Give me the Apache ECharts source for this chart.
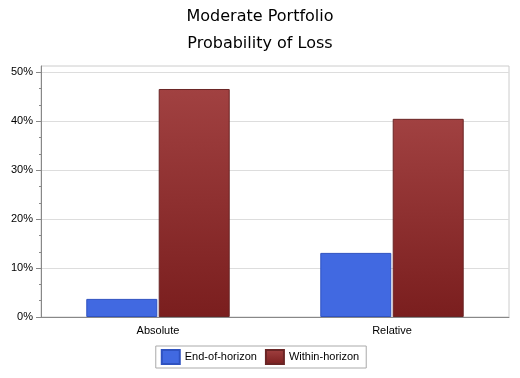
<!DOCTYPE html>
<html>
<head>
<meta charset="utf-8">
<script src="https://cdn.jsdelivr.net/npm/echarts@6/dist/echarts.min.js"></script>
<style>html,body{margin:0;padding:0;background:#fff}#c{width:520px;height:378px}</style>
</head>
<body>
<div id="c"></div>
<script>
var titleLines = ['Moderate Portfolio', 'Probability of Loss'];
var categories = ['Absolute', 'Relative'];
var seriesNames = ['End-of-horizon', 'Within-horizon'];
var endOfHorizon = [3.7, 13.1];
var withinHorizon = [46.6, 40.5];
var yTicks = [0, 10, 20, 30, 40, 50];
var yMax = 51.3;

var chart = echarts.init(document.getElementById('c'), null, {renderer: 'canvas'});
var minorSlots = [];
for (var i = 0; i < categories.length * 5; i++) minorSlots.push('');

chart.setOption({
  animation: false,
  backgroundColor: '#ffffff',
  title: {
    text: titleLines.join('\n'),
    left: 'center',
    top: -2,
    textStyle: {fontFamily: 'DejaVu Sans', fontSize: 16, fontWeight: 'normal', color: '#000', lineHeight: 27}
  },
  grid: {left: 41, right: 11, top: 66, bottom: 61, show: true, borderColor: '#cccccc', borderWidth: 1, backgroundColor: '#ffffff'},
  legend: {
    data: seriesNames,
    left: 'center',
    top: 346,
    icon: 'rect',
    itemWidth: 18,
    itemHeight: 14,
    itemGap: 8,
    padding: [3, 7, 3, 5],
    borderColor: '#aaaaaa',
    borderWidth: 1,
    textStyle: {fontFamily: 'Liberation Sans', fontSize: 11, color: '#000'}
  },
  xAxis: [{
    type: 'category',
    data: categories,
    position: 'bottom',
    axisLine: {lineStyle: {color: '#888888'}},
    axisTick: {alignWithLabel: true, length: 5, lineStyle: {color: '#888888'}},
    axisLabel: {fontFamily: 'Liberation Sans', fontSize: 11, color: '#000', margin: 8}
  }, {
    type: 'category',
    data: minorSlots,
    position: 'bottom',
    axisLine: {show: false},
    axisTick: {alignWithLabel: true, length: 3, lineStyle: {color: '#888888'}},
    axisLabel: {show: false}
  }],
  yAxis: {
    type: 'value',
    min: 0,
    max: yMax,
    interval: 10,
    axisLine: {show: true, lineStyle: {color: '#888888'}},
    axisTick: {show: true, length: 5, customValues: yTicks, lineStyle: {color: '#888888'}},
    minorTick: {show: true, splitNumber: 3, length: 2, lineStyle: {color: '#888888'}},
    splitLine: {lineStyle: {color: '#dddddd'}},
    axisLabel: {
      fontFamily: 'Liberation Sans', fontSize: 11, color: '#000', margin: 8,
      formatter: function (v) { return yTicks.indexOf(v) >= 0 ? v + '%' : ''; }
    }
  },
  series: [{
    name: seriesNames[0],
    type: 'bar',
    data: endOfHorizon,
    barWidth: 71,
    barGap: '2%',
    itemStyle: {color: '#4169E1', borderColor: '#2f52c0', borderWidth: 1}
  }, {
    name: seriesNames[1],
    type: 'bar',
    data: withinHorizon,
    barWidth: 71,
    barGap: '2%',
    itemStyle: {
      color: new echarts.graphic.LinearGradient(0, 0, 0, 1, [
        {offset: 0, color: '#A14141'},
        {offset: 1, color: '#7A1E1E'}
      ]),
      borderColor: '#6a2525',
      borderWidth: 1
    }
  }]
});
</script>
</body>
</html>
